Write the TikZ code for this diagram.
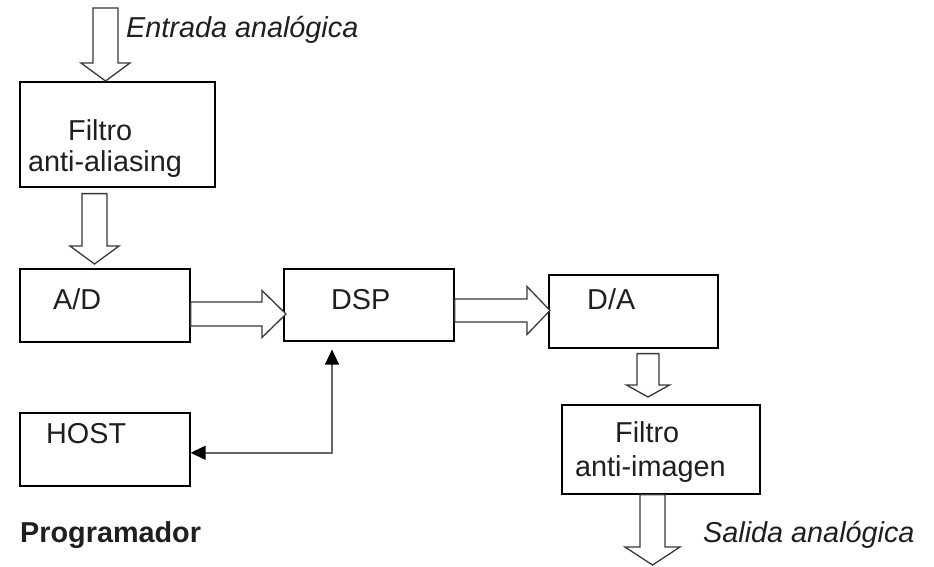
\documentclass[tikz,border=0pt]{standalone}
\usepackage{fontspec}
\setmainfont{Liberation Sans}
\usetikzlibrary{calc,arrows.meta}
% vertical (downward) block arrow: start, tip, shaft half width, head half width, head length
\newcommand\BlkV[5]{\draw[blk] let \p1=#1, \p2=#2 in
  (\x1-#3pt,\y1) -- (\x1+#3pt,\y1) -- (\x1+#3pt,\y2+#5pt) -- (\x1+#4pt,\y2+#5pt)
  -- (\x1,\y2) -- (\x1-#4pt,\y2+#5pt) -- (\x1-#3pt,\y2+#5pt) -- cycle;}
% horizontal (rightward) block arrow
\newcommand\BlkH[5]{\draw[blk] let \p1=#1, \p2=#2 in
  (\x1,\y1+#3pt) -- (\x2-#5pt,\y1+#3pt) -- (\x2-#5pt,\y1+#4pt) -- (\x2,\y1)
  -- (\x2-#5pt,\y1-#4pt) -- (\x2-#5pt,\y1-#3pt) -- (\x1,\y1-#3pt) -- cycle;}
\begin{document}
\begin{tikzpicture}[x=1pt,y=-1pt,
  box/.style={draw=black, line width=1.6pt, inner sep=0pt, anchor=north west},
  lbl/.style={font=\fontsize{28.8pt}{34pt}\selectfont, text=black!88, inner sep=0pt, anchor=base west},
  blk/.style={draw=black!78, line width=1.3pt, fill=white, line join=miter},
  conn/.style={{Triangle[length=15pt,width=14pt,color=black]}-{Triangle[length=15pt,width=14pt,color=black]}, line width=1.5pt, draw=black!60}]
\path[use as bounding box, fill=white] (0,0) rectangle (934,566);

% boxes
\node[box, minimum width=195pt, minimum height=105pt] (fa) at (19,81) {};
\node[box, minimum width=170pt, minimum height=73pt] (ad) at (19,268) {};
\node[box, minimum width=170pt, minimum height=72pt] (dsp) at (283,268) {};
\node[box, minimum width=169pt, minimum height=73pt] (da) at (548,274) {};
\node[box, minimum width=170pt, minimum height=73pt] (host) at (19,412) {};
\node[box, minimum width=198pt, minimum height=89pt] (fi) at (561,404) {};

% texts
\node[lbl, font=\fontsize{28.8pt}{34pt}\selectfont\itshape] (tin) at (126,37) {Entrada analógica};
\node[lbl] (tfa1) at (68,140) {Filtro};
\node[lbl] (tfa2) at (28,171) {anti-aliasing};
\node[lbl] (tad) at (53,309) {A/D};
\node[lbl] (tdsp) at (331,309) {DSP};
\node[lbl] (tda) at (587,309) {D/A};
\node[lbl] (thost) at (46,443) {HOST};
\node[lbl] (tfi1) at (615,442) {Filtro};
\node[lbl] (tfi2) at (575,476) {anti-imagen};
\node[lbl, font=\fontsize{28.8pt}{34pt}\selectfont\bfseries] (tprog) at (20,542) {Programador};
\node[lbl, font=\fontsize{28.8pt}{34pt}\selectfont\itshape] (tout) at (703,542) {Salida analógica};

% helper coordinates
\coordinate (inA) at (105.5,8);
\coordinate (fadx) at (94.5,0);
\coordinate (addy) at (0,314);
\coordinate (dday) at (0,310.5);
\coordinate (dfx) at (648,0);
\coordinate (outx) at (652.5,0);
\coordinate (outE) at (652.5,565);

% block arrows
\BlkV{(inA)}{(inA |- fa.north)}{12.5}{24.5}{18}
\BlkV{($(fadx |- fa.south)+(0,6)$)}{($(fadx |- ad.north)+(0,-4)$)}{12.5}{24.5}{18}
\BlkH{(ad.east |- addy)}{($(dsp.west |- addy)+(3,0)$)}{12}{23.5}{24}
\BlkH{(dsp.east |- dday)}{($(da.west |- dday)+(2,0)$)}{11.5}{24}{23}
\BlkV{($(dfx |- da.south)+(0,5)$)}{($(dfx |- fi.north)+(0,-7)$)}{11}{21.5}{12}
\BlkV{(outx |- fi.south)}{(outE)}{12.5}{27.5}{18}

% host connector
\coordinate (dspin) at ($(dsp.south west)+(49,8)$);
\draw[conn] (dspin) |- ([yshift=-3.5pt]host.east);
\end{tikzpicture}
\end{document}
